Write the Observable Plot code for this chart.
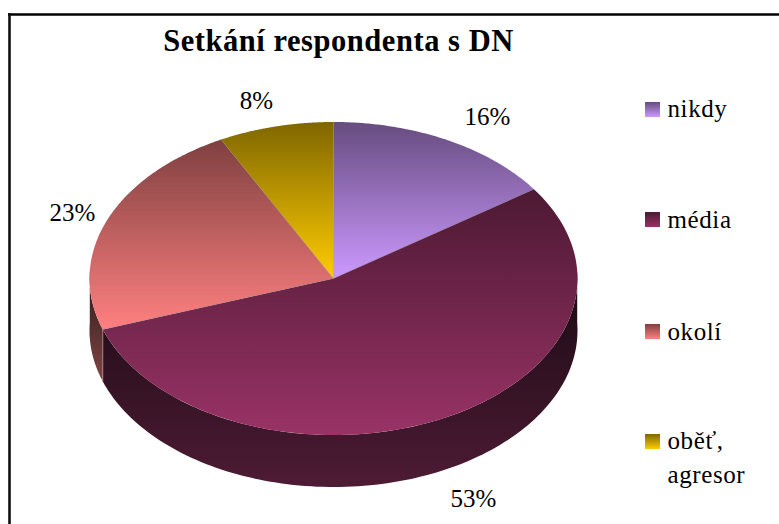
<!DOCTYPE html>
<html><head><meta charset="utf-8">
<script src="https://cdn.jsdelivr.net/npm/d3@7"></script>
<script src="https://cdn.jsdelivr.net/npm/@observablehq/plot@0.6"></script>
<style>
html,body{margin:0;padding:0;background:#fff}
svg{display:block}
.ttl text{letter-spacing:.55px}
.leg text{letter-spacing:.6px}
</style></head><body>
<script>
const categories = ["nikdy", "média", "okolí", "oběť,\nagresor"];
const values = [16, 53, 23, 8];
const lightColors = ["#cc99ff", "#993366", "#ff8080", "#ffcc00"];
const darkColors = ["#664c7f", "#4c1933", "#7f4040", "#7f6600"];
const wallColors = {1: ["#190a12", "#4e1b35"], 2: ["#2a1a18", "#804545"]};
const titleText = "Setkání respondenta s DN";

const W = 779, H = 524;
const pie = {cx: 333, cy: 278, rx: 244, ry: 156.5, depth: 52, perspective: 2.8};
const legendLayout = {swatchX: 645, swatchSize: 15, swatchY: [102, 212, 324, 434], textX: 667, textY: [92, 203, 315, 424]};
const labelLayout = {x: [487, 473, 72, 256], y: [107, 489, 203, 91]};
const frame = {x: 9, y: 14};

const total = d3.sum(values);
const cum = d3.cumsum(values);
const angles = values.map((v, i) => [(cum[i] - v) / total * 360, cum[i] / total * 360]);
// the view's perspective shifts each position on the rim slightly
const warp = deg => deg - pie.perspective * Math.sin(deg * Math.PI / 180);
const pt = (deg, dz = 0) => {
  const a = warp(deg) * Math.PI / 180;
  return {x: pie.cx + pie.rx * Math.sin(a), y: pie.cy - pie.ry * Math.cos(a) + dz};
};
const arc = (a0, a1, dz = 0) => d3.range(0, 121).map(k => pt(a0 + (a1 - a0) * k / 120, dz));
const slice = ([a0, a1]) => [{x: pie.cx, y: pie.cy}, ...arc(a0, a1)];
const wall = (a0, a1) => [...arc(a0, a1), ...arc(a0, a1, pie.depth).reverse()];

const grad = (defs, id, c0, c1) => {
  const g = defs.append("linearGradient").attr("id", id).attr("x1", 0).attr("x2", 0).attr("y1", 0).attr("y2", 1);
  g.append("stop").attr("offset", "0%").attr("stop-color", c0);
  g.append("stop").attr("offset", "100%").attr("stop-color", c1);
};
const defsMark = () => {
  const defs = d3.create("svg:defs");
  values.forEach((_, i) => grad(defs, "top" + i, darkColors[i], lightColors[i]));
  Object.entries(wallColors).forEach(([i, [a, b]]) => grad(defs, "wall" + i, a, b));
  return defs.node();
};
const poly = (pts, fill) => Plot.line(pts, {x: "x", y: "y", fill, stroke: "none", curve: "linear"});

const A = angles;
const marks = [
  defsMark,
  Plot.ruleY([frame.y], {stroke: "#000", strokeWidth: 2.4, x1: frame.x - 1, x2: W}),
  Plot.ruleX([frame.x], {stroke: "#111", strokeWidth: 2.6, y1: frame.y - 1, y2: H}),
  poly(wall(90, A[1][1]), "url(#wall1)"),
  poly(wall(A[2][0], 270), "url(#wall2)"),
  Plot.line([pt(A[2][0]), pt(A[2][0], pie.depth)], {x: "x", y: "y", stroke: "#a88", strokeWidth: 0.8}),
  ...angles.map((a, i) => poly(slice(a), `url(#top${i})`)),
  ...angles.map(a => Plot.line([{x: pie.cx, y: pie.cy}, pt(a[0])], {x: "x", y: "y", stroke: "#777", strokeWidth: 0.5, strokeOpacity: 0.6})),
  Plot.text([titleText], {x: 338, y: 41, text: d => d, fontFamily: "Liberation Serif", fontWeight: "bold", fontSize: 30.5, fill: "#000", textAnchor: "middle", lineAnchor: "middle", className: "ttl"}),
  ...values.map((_, i) => Plot.rect([i], {
    x1: legendLayout.swatchX, x2: legendLayout.swatchX + legendLayout.swatchSize,
    y1: legendLayout.swatchY[i], y2: legendLayout.swatchY[i] + legendLayout.swatchSize,
    fill: `url(#top${i})`})),
  Plot.text(categories, {x: legendLayout.textX, y: (d, i) => legendLayout.textY[i], text: d => d, fontFamily: "Liberation Serif", fontSize: 25, fill: "#000", textAnchor: "start", lineAnchor: "top", lineHeight: 1.36, className: "leg"}),
  Plot.text(values, {x: (d, i) => labelLayout.x[i], y: (d, i) => labelLayout.y[i], text: d => `${d}%`, fontFamily: "Liberation Serif", fontSize: 25, fill: "#000", textAnchor: "middle", lineAnchor: "top"})
];
document.body.append(Plot.plot({
  width: W, height: H, margin: 0, style: {background: "#fff", overflow: "hidden"},
  x: {type: "linear", domain: [0, W], range: [0, W], axis: null},
  y: {type: "linear", domain: [0, H], range: [0, H], axis: null},
  marks
}));
</script>
</body></html>
